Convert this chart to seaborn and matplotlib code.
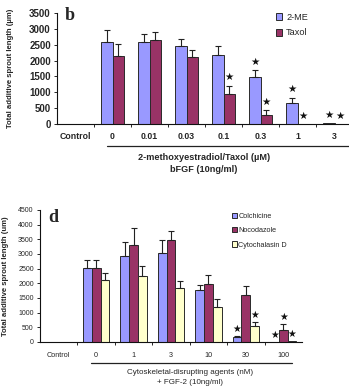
import numpy as np
import pandas as pd
import matplotlib
matplotlib.use("Agg")
import matplotlib.pyplot as plt
import seaborn as sns
from matplotlib.lines import Line2D
from matplotlib.patches import Patch

# ---------------- data ----------------
b_categories = ["Control", "0", "0.01", "0.03", "0.1", "0.3", "1", "3"]
b_series = ["2-ME", "Taxol"]
b_me = [2600, 2580, 2445, 2180, 1485, 655, 20]
b_me_err = [350, 250, 245, 265, 215, 175, 0]
b_taxol = [2150, 2655, 2100, 950, 270, 0, 0]
b_taxol_err = [370, 255, 240, 260, 170, 0, 0]
b_me_sig = [0, 0, 0, 0, 1, 1, 1]
b_taxol_sig = [0, 0, 0, 1, 1, 1, 1]

d_categories = ["Control", "0", "1", "3", "10", "30", "100"]
d_series = ["Colchicine", "Nocodazole", "Cytochalasin D"]
d_colch = [2530, 2915, 3030, 1757, 160, 0]
d_colch_err = [260, 485, 450, 195, 40, 0]
d_noco = [2530, 3300, 3490, 1975, 1610, 400]
d_noco_err = [260, 590, 310, 315, 305, 210]
d_cyto = [2100, 2255, 1835, 1190, 555, 35]
d_cyto_err = [250, 320, 240, 285, 125, 0]
d_colch_sig = [0, 0, 0, 0, 1, 1]
d_noco_sig = [0, 0, 0, 0, 0, 1]
d_cyto_sig = [0, 0, 0, 0, 1, 1]

C_BLUE = "#9999FF"
C_MAROON = "#993366"
C_YELLOW = "#FFFFCC"

sns.set_style("ticks")
plt.rcParams["font.family"] = ["Liberation Sans", "DejaVu Sans"]

W, H = 349, 388
fig = plt.figure(figsize=(W / 100, H / 100), dpi=100)


def fx(px):
    return px / W


def fy(py):
    return 1 - py / H


def draw(ax, cats, series, vals, errs, sigs, colors, width, star_off, star_min, star_size):
    rows = []
    for s, v in zip(series, vals):
        for c, y in zip(cats[1:], v):
            rows.append({"cat": c, "series": s, "value": y})
    df = pd.DataFrame(rows)
    sns.barplot(data=df, x="cat", y="value", hue="series", order=cats,
                hue_order=series, palette=dict(zip(series, colors)),
                width=width, edgecolor="#2a2a2a", linewidth=0.7, ax=ax,
                legend=False, errorbar=None, gap=0, saturation=1)
    for cont, e, sg in zip(ax.containers, errs, sigs):
        for bar, ee, ss in zip(cont, e, sg):
            x = bar.get_x() + bar.get_width() / 2
            h = bar.get_height()
            if ee > 0:
                ax.errorbar([x], [h], yerr=[[0], [ee]], fmt="none", ecolor="#222222",
                            elinewidth=0.8, capsize=2.2, capthick=0.8, zorder=3)
            if ss:
                ax.text(x, max(h + ee + star_off, star_min), "\u2605", ha="center",
                        va="center", fontsize=star_size, color="#111111",
                        family="DejaVu Sans", zorder=4)
    n = len(cats)
    ax.set_xlim(-0.5, n - 0.5)
    ax.set_xticks(range(n))
    ax.set_xticks(np.arange(0.5, n - 0.5, 1.0), minor=True)
    ax.tick_params(axis="x", which="major", length=0)
    ax.tick_params(axis="x", which="minor", length=2.5, width=0.7, direction="out")
    ax.tick_params(axis="y", length=2.5, width=0.7, direction="out", pad=2)
    ax.set_xlabel("")
    sns.despine(ax=ax)
    for sp in ("left", "bottom"):
        ax.spines[sp].set_linewidth(0.8)
        ax.spines[sp].set_color("#111111")


# ---------------- panel b ----------------
axb = fig.add_axes([fx(57), fy(124), 296 / W, 111 / H])
draw(axb, b_categories, b_series, [b_me, b_taxol], [b_me_err, b_taxol_err],
     [b_me_sig, b_taxol_sig], [C_BLUE, C_MAROON], 0.6, 260, 180, 7.5)
axb.set_ylim(0, 3500)
axb.set_yticks(range(0, 3501, 500))
axb.set_yticklabels([str(v) for v in range(0, 3501, 500)], fontsize=7, fontweight="bold")
axb.set_xticklabels(b_categories, fontsize=6.3, fontweight="bold")
axb.tick_params(axis="x", which="major", pad=6)
axb.set_ylabel("Total additive sprout length (\u00b5m)", fontsize=5.6, fontweight="bold")
axb.yaxis.set_label_coords(-0.145, 0.5)
axb.legend(handles=[Patch(facecolor=C_BLUE, edgecolor="#2a2a2a", linewidth=0.7),
                    Patch(facecolor=C_MAROON, edgecolor="#2a2a2a", linewidth=0.7)],
           labels=b_series, loc="upper left", bbox_to_anchor=(fx(271), fy(8)),
           bbox_transform=fig.transFigure, frameon=False, fontsize=6.6,
           handlelength=0.75, handleheight=0.75, handletextpad=0.4,
           labelspacing=0.75, borderpad=0)
fig.text(fx(70), fy(15), "b", fontsize=13, fontweight="bold",
         family="Liberation Serif", ha="center", va="center")
fig.add_artist(Line2D([fx(107), fx(349)], [fy(146), fy(146)], color="#222222",
                      lw=0.9, transform=fig.transFigure))
fig.text(fx(204), fy(158), "2-methoxyestradiol/Taxol (\u00b5M)", fontsize=6.6,
         fontweight="bold", ha="center", va="center")
fig.text(fx(204), fy(170), "bFGF (10ng/ml)", fontsize=6.6,
         fontweight="bold", ha="center", va="center")

# ---------------- panel d ----------------
axd = fig.add_axes([fx(40), fy(342), 262 / W, 132 / H])
draw(axd, d_categories, d_series, [d_colch, d_noco, d_cyto],
     [d_colch_err, d_noco_err, d_cyto_err], [d_colch_sig, d_noco_sig, d_cyto_sig],
     [C_BLUE, C_MAROON, C_YELLOW], 0.7, 250, 250, 7)
axd.set_ylim(0, 4500)
axd.set_yticks(range(0, 4501, 500))
axd.set_yticklabels([str(v) for v in range(0, 4501, 500)], fontsize=5)
axd.set_xticklabels(d_categories, fontsize=5.2)
axd.tick_params(axis="x", which="major", pad=7)
axd.set_ylabel("Total additive sprout length (um)", fontsize=5.6, fontweight="bold")
axd.yaxis.set_label_coords(-0.118, 0.5)
axd.legend(handles=[Patch(facecolor=c, edgecolor="#2a2a2a", linewidth=0.7)
                    for c in (C_BLUE, C_MAROON, C_YELLOW)],
           labels=d_series, loc="upper left", bbox_to_anchor=(fx(228), fy(209)),
           bbox_transform=fig.transFigure, frameon=False, fontsize=5.2,
           handlelength=0.75, handleheight=0.75, handletextpad=0.2,
           labelspacing=1.0, borderpad=0)
fig.text(fx(53), fy(217), "d", fontsize=13, fontweight="bold",
         family="Liberation Serif", ha="center", va="center")
fig.add_artist(Line2D([fx(91), fx(292)], [fy(363), fy(363)], color="#222222",
                      lw=0.9, transform=fig.transFigure))
fig.text(fx(190), fy(373), "Cytoskeletal-disrupting agents (nM)", fontsize=5.8,
         ha="center", va="center")
fig.text(fx(190), fy(382), "+ FGF-2 (10ng/ml)", fontsize=5.8,
         ha="center", va="center")

fig.savefig("out.png", dpi=100)
